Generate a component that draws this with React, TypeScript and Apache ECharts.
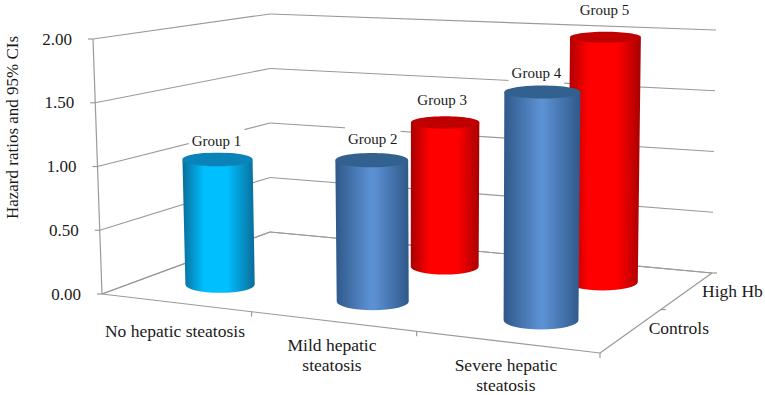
import React, { useEffect, useRef } from "react";
import * as echarts from "echarts";

const categories = ["No hepatic steatosis", "Mild hepatic\nsteatosis", "Severe hepatic\nsteatosis"];
const depthNames = ["Controls", "High Hb"];
const yTicks = [0, 0.5, 1, 1.5, 2];
const controlsValues = [1.0, 1.09, 1.7];
const highHbValues = [1.2, 1.97];
const highHbCategories = [1, 2];
const controlsLabels = ["Group 1", "Group 2", "Group 4"];
const highHbLabels = ["Group 3", "Group 5"];
const yTitle = "Hazard ratios and 95% CIs";

const FONT = "'Liberation Serif', 'Times New Roman', serif";
const TEXT = "#1a1a1a";
const LINE = "#9a9a9a";
type P = [number, number];

// Floor corners in screen space: front-left, front-right, back-right, back-left
const FLOOR: P[] = [[102, 294], [600, 353], [712, 273], [270, 232]];
// Screen height and sideways lean of the full value range at those corners
const WALL_H = [255, 283, 243, 218];
const WALL_LEAN = [-9, 3, 4, 0];

function unitSquareMap(q: P[]) {
  const [p0, p1, p2, p3] = q;
  const dx1 = p1[0] - p2[0], dx2 = p3[0] - p2[0], sx = p0[0] - p1[0] + p2[0] - p3[0];
  const dy1 = p1[1] - p2[1], dy2 = p3[1] - p2[1], sy = p0[1] - p1[1] + p2[1] - p3[1];
  const den = dx1 * dy2 - dx2 * dy1;
  const g = (sx * dy2 - dx2 * sy) / den;
  const h = (dx1 * sy - sx * dy1) / den;
  const a = p1[0] - p0[0] + g * p1[0], b = p3[0] - p0[0] + h * p3[0], c = p0[0];
  const d = p1[1] - p0[1] + g * p1[1], e = p3[1] - p0[1] + h * p3[1], f = p0[1];
  return (u: number, v: number): P => {
    const w = g * u + h * v + 1;
    return [(a * u + b * v + c) / w, (d * u + e * v + f) / w];
  };
}
const floorMap = unitSquareMap(FLOOR);
const bilinear = (c: number[], u: number, d: number) =>
  (c[0] * (1 - u) + c[1] * u) * (1 - d) + (c[3] * (1 - u) + c[2] * u) * d;
// u: along categories, d: along depth, t: height as a fraction of the value axis
function project(u: number, d: number, t: number): P {
  const a = floorMap(u, d);
  return [a[0] + bilinear(WALL_LEAN, u, d) * t, a[1] - bilinear(WALL_H, u, d) * t];
}

const GRID = { left: 0, top: 0, width: 300, height: 300 };
const barHalfU = (u: number) => 0.0816 - 0.0133 * u;
const LABEL_SHIFT: Record<string, P> = {
  "Group 1": [-1, -12], "Group 2": [1, -14], "Group 3": [-3, -16], "Group 4": [-6, -13], "Group 5": [-1, -22],
};
const CAT_LABEL_DY = [28, 33.5, 33];
const PALETTE: Record<string, { edge: string; mid: string; cap: string; a: number; b: number }> = {
  cyan: { edge: "#0a6d9a", mid: "#00bfff", cap: "#0a84b8", a: 0.3, b: 0.62 },
  blue: { edge: "#2f5889", mid: "#5b90d2", cap: "#33618f", a: 0.47, b: 0.53 },
  red: { edge: "#a80000", mid: "#ff0000", cap: "#c00000", a: 0.28, b: 0.68 },
};

function axisFrac(api: any, cat: number, v: number) {
  const c = api.coord([cat, v]);
  return { u: (c[0] - GRID.left) / GRID.width, t: 1 - (c[1] - GRID.top) / GRID.height };
}
const lineEl = (a: P, b: P, w = 1.2) => ({
  type: "line",
  shape: { x1: a[0], y1: a[1], x2: b[0], y2: b[1] },
  style: { stroke: LINE, lineWidth: w, fill: "none" },
  silent: true,
});
const txt = (text: string, x: number, y: number, size: number, extra: any = {}, elExtra: any = {}) => ({
  type: "text",
  x,
  y,
  ...elExtra,
  style: { text, fontFamily: FONT, fontSize: size, fill: TEXT, align: "center", verticalAlign: "middle", lineHeight: 20, ...extra },
});
const rxAt = (u: number, d: number, t: number) =>
  (project(u + barHalfU(u), d, t)[0] - project(u - barHalfU(u), d, t)[0]) / 2;
const ryFor = (rx: number, y: number) => rx * (0.14 + 0.00034 * y);

function barEl(u: number, d: number, t: number, colors: (typeof PALETTE)[string]) {
  const base = project(u, d, 0), top = project(u, d, t);
  const rb = rxAt(u, d, 0), rt = rxAt(u, d, t);
  const ryb = ryFor(rb, base[1]), ryt = ryFor(rt, top[1]);
  const grad = new echarts.graphic.LinearGradient(0, 0, 1, 0, [
    { offset: 0, color: colors.edge },
    { offset: colors.a, color: colors.mid },
    { offset: colors.b, color: colors.mid },
    { offset: 1, color: colors.edge },
  ]);
  const d0 = `M${top[0] - rt} ${top[1]} L${top[0] + rt} ${top[1]} L${base[0] + rb} ${base[1]} A${rb} ${ryb} 0 0 1 ${base[0] - rb} ${base[1]} Z`;
  return {
    type: "group",
    children: [
      { type: "path", shape: { pathData: d0 }, style: { fill: grad } },
      { type: "ellipse", shape: { cx: top[0], cy: top[1], rx: rt, ry: ryt }, style: { fill: colors.cap } },
    ],
  };
}

function barSeries(cats: number[], values: number[], depth: number, color: (c: number) => string) {
  return {
    type: "custom",
    coordinateSystem: "cartesian2d",
    data: cats.map((c, i) => [c, values[i]]),
    renderItem: (params: any, api: any) => {
      const { u, t } = axisFrac(api, api.value(0), api.value(1));
      return barEl(u, depth, t, PALETTE[color(api.value(0))]);
    },
    silent: true,
  };
}
function labelSeries(cats: number[], values: number[], labels: string[], depth: number) {
  return {
    type: "custom",
    coordinateSystem: "cartesian2d",
    data: cats.map((c, i) => [c, values[i]]),
    renderItem: (params: any, api: any) => {
      const { u, t } = axisFrac(api, api.value(0), api.value(1));
      const top = project(u, depth, t);
      const ry = ryFor(rxAt(u, depth, t), top[1]);
      const name = labels[params.dataIndex];
      const s = LABEL_SHIFT[name];
      return txt(name, top[0] + s[0], top[1] - ry + s[1], 15, { backgroundColor: "#ffffff", padding: [2, 3, 2, 3] });
    },
    silent: true,
    z: 5,
  };
}

export default function App() {
  const ref = useRef<HTMLDivElement>(null);
  useEffect(() => {
    const chart = echarts.init(ref.current!, undefined, { renderer: "svg" });
    chart.setOption({
      animation: false,
      backgroundColor: "#ffffff",
      grid: { ...GRID, containLabel: false },
      xAxis: { type: "category", data: categories, show: false },
      yAxis: { type: "value", min: 0, max: 2, interval: 0.5, show: false },
      series: [
        {
          type: "custom",
          coordinateSystem: "cartesian2d",
          data: yTicks.map((v) => [0, v]),
          renderItem: (params: any, api: any) => {
            const { t } = axisFrac(api, 0, api.value(1));
            const fl = project(0, 0, t), bl = project(0, 1, t), br = project(1, 1, t);
            const label = api.value(1).toFixed(2);
            return {
              type: "group",
              children: [
                lineEl(fl, bl),
                lineEl(bl, br),
                lineEl(fl, [fl[0] - 5, fl[1]]),
                txt(label, fl[0] - 36, fl[1], 17),
              ],
            };
          },
          silent: true,
        },
        {
          type: "custom",
          coordinateSystem: "cartesian2d",
          data: categories.map((c, i) => [i, 0]),
          renderItem: (params: any, api: any) => {
            const i = params.dataIndex;
            const { u } = axisFrac(api, api.value(0), 0);
            const tickTop = project(u + 1 / 6, 0, 0);
            const below = project(u, 0, 0);
            const children: any[] = [
              lineEl(tickTop, [tickTop[0], tickTop[1] + 5]),
              txt(categories[i], below[0], below[1] + CAT_LABEL_DY[i], 17.5),
            ];
            if (i === 0) {
              children.push(lineEl(project(0, 0, 0), project(1, 0, 0)));
              children.push(lineEl(project(1, 0, 0), project(1, 1, 0)));
              children.push(lineEl(project(0, 0, 0), project(0, 1, 0)));
              children.push(lineEl(project(0, 1, 0), project(1, 1, 0)));
              children.push(lineEl(project(0, 0, 0), project(0, 0, 1)));
              children.push(txt(yTitle, 12, 127.5, 17, {}, { rotation: Math.PI / 2 }));
              depthNames.forEach((n, k) => {
                const p = project(1, (k + 0.5) / 2, 0);
                const q = project(1, (k + 1) / 2, 0);
                children.push(lineEl(q, [q[0] + 5, q[1]]));
                children.push(txt(n, p[0] + (k === 0 ? 47 : 45), p[1] + (k === 0 ? -2 : 0), 17.5));
              });
            }
            return { type: "group", children };
          },
          silent: true,
        },
        barSeries(highHbCategories, highHbValues, 0.75, () => "red"),
        barSeries([0, 1, 2], controlsValues, 0.25, (c) => (c === 0 ? "cyan" : "blue")),
        labelSeries(highHbCategories, highHbValues, highHbLabels, 0.75),
        labelSeries([0, 1, 2], controlsValues, controlsLabels, 0.25),
      ],
    });
    return () => chart.dispose();
  }, []);
  return <div ref={ref} style={{ position: "absolute", left: 0, top: 0, width: 765, height: 395 }} />;
}
